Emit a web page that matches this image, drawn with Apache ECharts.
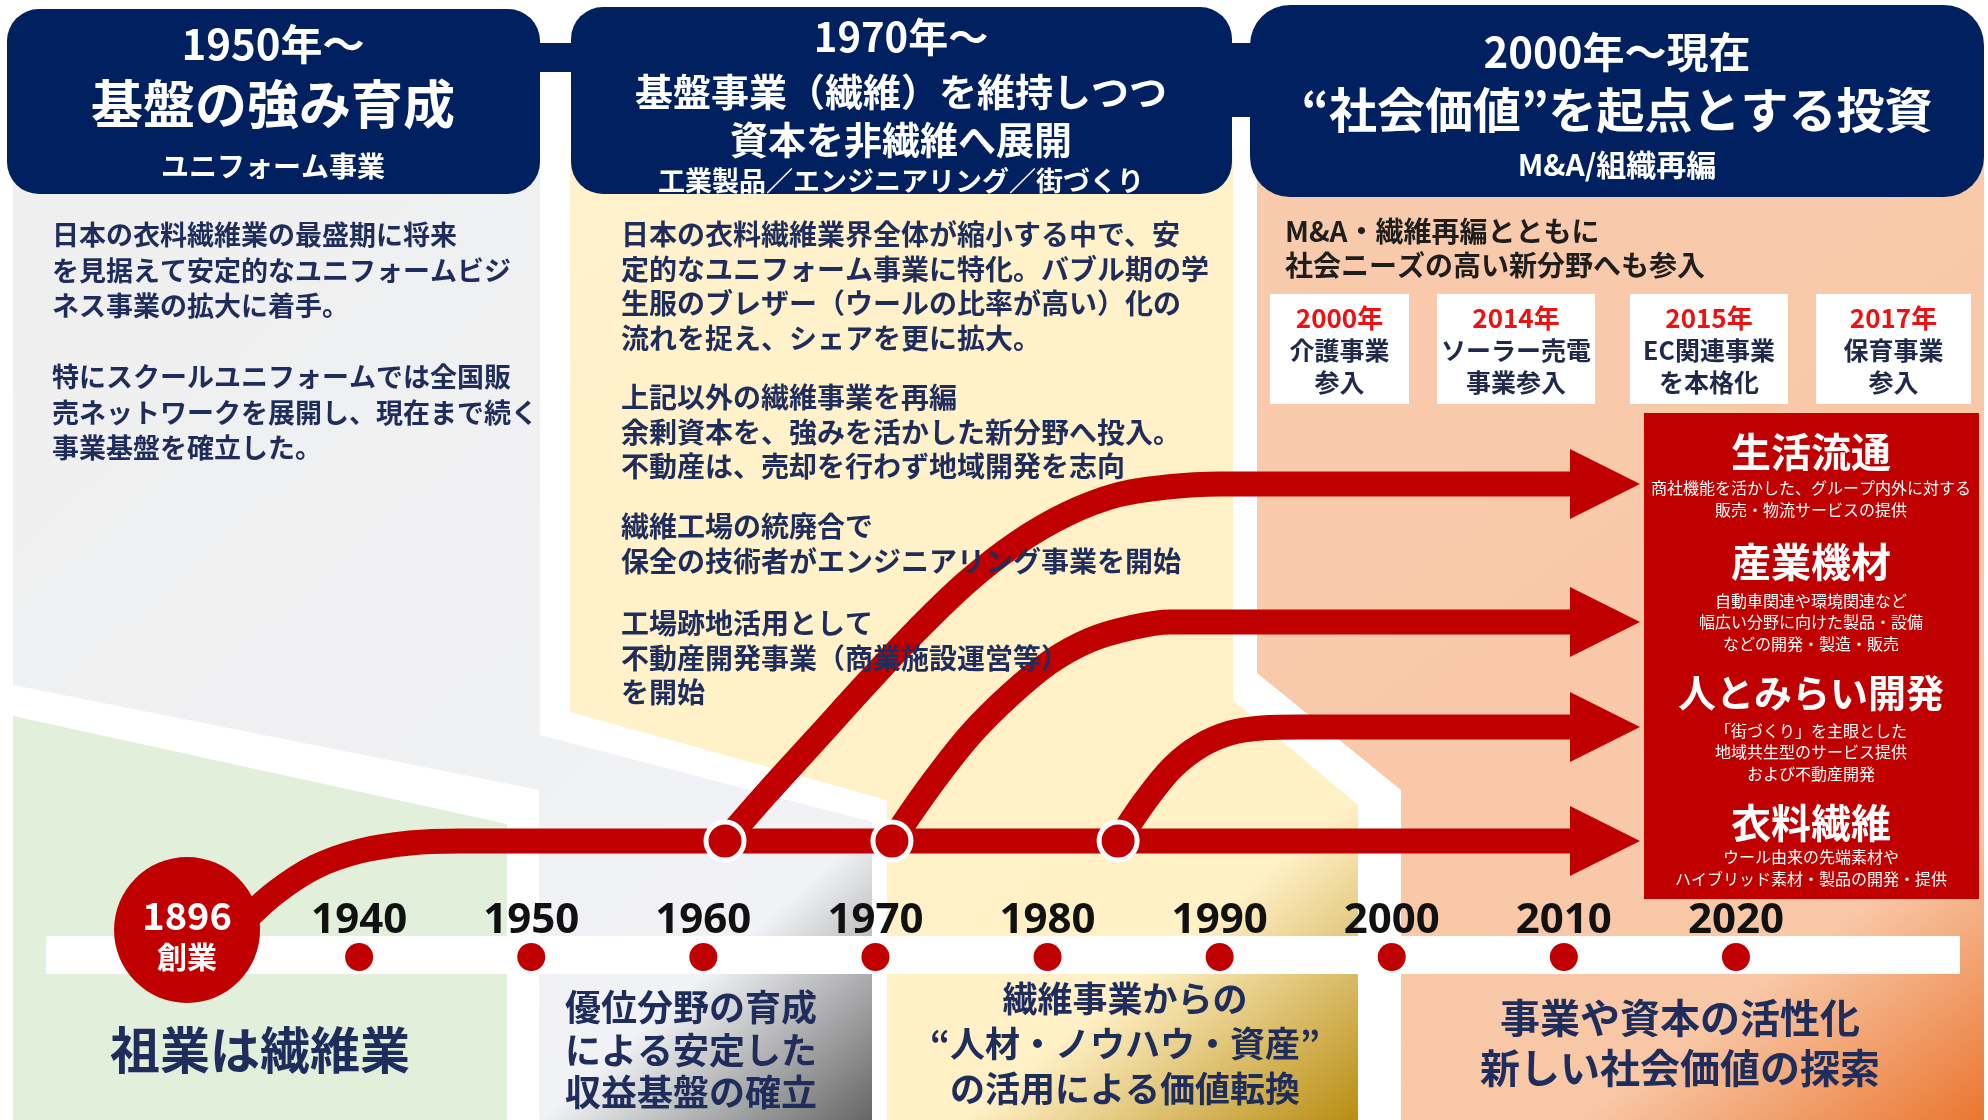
<!DOCTYPE html>
<html><head><meta charset="utf-8">
<script src="https://cdn.jsdelivr.net/npm/echarts@6/dist/echarts.min.js"></script>
<style>html,body{margin:0;padding:0;background:#fff}#c{width:1988px;height:1120px}</style>
</head><body><div id="c"></div>
<script>
// ---------- data ----------
const yearLabels = ['1896','1940','1950','1960','1970','1980','1990','2000','2010','2020'];
const foundingLabel = '創業';
const foundingLevel = 2.7;
const timelineLevel = 0;
// business lines: x in timeline slots (index of yearLabels), y in height units above the timeline
const trunkPath = [[0.308,3.2],[0.511,6.4],[0.744,9.0],[1.005,10.6],[1.296,11.4],[1.586,11.6],[3.0,11.6],[8.065,11.6]];
const branch1Path = [[3.126,11.6],[3.370,16.4],[3.661,21.9],[3.951,27.4],[4.242,32.7],[4.532,37.5],[4.823,41.4],[5.113,44.3],[5.404,46.2],[5.694,47.0],[6.002,47.3],[8.065,47.3]];
const branch2Path = [[4.096,11.6],[4.317,17.1],[4.550,22.2],[4.782,26.2],[5.015,29.5],[5.247,31.7],[5.479,32.9],[5.712,33.5],[8.065,33.5]];
const branch3Path = [[5.410,11.6],[5.567,15.6],[5.723,18.9],[5.886,21.1],[6.060,22.4],[6.246,22.9],[6.467,23.0],[8.065,23.0]];
const branchNodes = [[3.126,11.6],[4.096,11.6],[5.410,11.6]];
const arrowTips = [[8.239,47.3],[8.239,33.5],[8.239,23.0],[8.239,11.6]];

const eraYears = ['1950年〜','1970年〜','2000年〜現在'];
const eraThemes = [['基盤の強み育成'],['基盤事業（繊維）を維持しつつ','資本を非繊維へ展開'],['“社会価値”を起点とする投資']];
const eraFields = ['ユニフォーム事業','工業製品／エンジニアリング／街づくり','M&A/組織再編'];
const era1Notes = ['日本の衣料繊維業の最盛期に将来','を見据えて安定的なユニフォームビジ','ネス事業の拡大に着手。','','特にスクールユニフォームでは全国販','売ネットワークを展開し、現在まで続く','事業基盤を確立した。'];
const era2Notes = [
  ['日本の衣料繊維業界全体が縮小する中で、安','定的なユニフォーム事業に特化。バブル期の学','生服のブレザー（ウールの比率が高い）化の','流れを捉え、シェアを更に拡大。'],
  ['上記以外の繊維事業を再編','余剰資本を、強みを活かした新分野へ投入。','不動産は、売却を行わず地域開発を志向'],
  ['繊維工場の統廃合で','保全の技術者がエンジニアリング事業を開始'],
  ['工場跡地活用として','不動産開発事業（商業施設運営等）','を開始']
];
const era3Intro = ['M&A・繊維再編とともに','社会ニーズの高い新分野へも参入'];
const entryYears = ['2000年','2014年','2015年','2017年'];
const entryTexts = [['介護事業','参入'],['ソーラー売電','事業参入'],['EC関連事業','を本格化'],['保育事業','参入']];
const businessNames = ['生活流通','産業機材','人とみらい開発','衣料繊維'];
const businessNotes = [
  ['商社機能を活かした、グループ内外に対する','販売・物流サービスの提供'],
  ['自動車関連や環境関連など','幅広い分野に向けた製品・設備','などの開発・製造・販売'],
  ['「街づくり」を主眼とした','地域共生型のサービス提供','および不動産開発'],
  ['ウール由来の先端素材や','ハイブリッド素材・製品の開発・提供']
];
const phaseTexts = [['祖業は繊維業'],['優位分野の育成','による安定した','収益基盤の確立'],['繊維事業からの','“人材・ノウハウ・資産”','の活用による価値転換'],['事業や資本の活性化','新しい社会価値の探索']];

// ---------- drawing ----------
const FONT = "'Noto Sans CJK JP','Noto Sans',sans-serif";
const NAVY = '#002060', RED = '#c00000', TEXT_NAVY = '#1f2d5c';
const chart = echarts.init(document.getElementById('c'), null, {renderer:'canvas'});

function grad(stops){ return new echarts.graphic.LinearGradient(0,0,1,1, stops.map(s=>({offset:s[0],color:s[1]}))); }
function poly(points, fill, z){ return {type:'polygon', z:z||1, silent:true, shape:{points}, style:{fill}}; }
function rect(x,y,w,h,r,fill,z){ return {type:'rect', z:z||5, silent:true, shape:{x,y,width:w,height:h,r}, style:{fill}}; }
function txt(lines, x, y, size, color, o){
  o = o || {};
  const text = Array.isArray(lines) ? lines.join('\n') : lines;
  return {type:'text', z:50, silent:true, x, y, style:{
    text, fill:color, fontSize:size, fontWeight:o.weight||'bold', fontFamily:o.family||FONT,
    align:o.align||'center', verticalAlign:o.valign||'middle',
    textAlign:o.align||'center', textVerticalAlign:o.valign||'middle',
    lineHeight:o.lh||Math.round(size*1.25)
  }};
}

const g = [];
// background panels
g.push(poly([[13,150],[540,150],[540,735],[872,822],[872,1120],[539,1120],[539,790],[13,685]], grad([[0,'#efefef'],[0.83,'#f1f2f5'],[1,'#666666']])));
g.push(poly([[13,716],[507,824],[507,1120],[13,1120]], '#e2efda'));
g.push(poly([[570,150],[1233,150],[1233,700],[1358,805],[1358,1120],[887,1120],[887,800],[570,712]], grad([[0,'#fff2cc'],[0.8,'#fff0c6'],[1,'#b88d12']])));
g.push(poly([[1257,150],[1984,150],[1984,1120],[1401,1120],[1401,790],[1257,673]], grad([[0,'#f8cbad'],[0.8,'#f8c7a6'],[1,'#ea7630']])));
// timeline band
g.push(rect(46,936,1914,38,0,'#ffffff',3));
// headers
g.push(rect(7,9,533,185,32,NAVY));
g.push(rect(536,43,40,29,0,NAVY));
g.push(rect(571,7,661,187,32,NAVY));
g.push(rect(1226,43,30,74,0,NAVY));
g.push(rect(1250,5,734,192,40,NAVY));
g.push(txt(eraYears[0],273,44,42,'#fff'));
g.push(txt(eraThemes[0],273,104,52,'#fff'));
g.push(txt(eraFields[0],273,166,28,'#fff'));
g.push(txt(eraYears[1],901,37,40,'#fff'));
g.push(txt(eraThemes[1],901,116,38,'#fff',{lh:48}));
g.push(txt(eraFields[1],901,181,27,'#fff'));
g.push(txt(eraYears[2],1617,52,42,'#fff'));
g.push(txt(eraThemes[2],1617,110,48,'#fff'));
g.push(txt(eraFields[2],1617,165,30,'#fff'));
// era notes
g.push(txt(era1Notes,52,217,27,TEXT_NAVY,{align:'left',valign:'top',lh:35.5}));
const paraTops = [235,398,527,624];
era2Notes.forEach((p,i)=>g.push(txt(p,621,paraTops[i]-17.5,28,TEXT_NAVY,{align:'left',valign:'top',lh:34.5})));
g.push(txt(era3Intro,1285,231-17,28,'#1e1e1e',{align:'left',valign:'top',lh:34}));
// entry boxes
const boxes = [[1270,139],[1437,158],[1630,158],[1816,155]];
boxes.forEach((b,i)=>{
  g.push(rect(b[0],294,b[1],110,0,'#ffffff'));
  const cx = b[0]+b[1]/2;
  g.push(txt(entryYears[i],cx,318,26,'#ee1111'));
  g.push(txt(entryTexts[i],cx,366,25,'#1f2a4a',{lh:32}));
});
// business box
g.push(rect(1644,413,335,486,0,RED));
const nameY = [452,562,693,823];
const noteY = [499,622,752,868];
businessNames.forEach((n,i)=>{
  g.push(txt(n,1811,nameY[i],n.length>4?38:40,'#fff'));
  g.push(txt(businessNotes[i],1811,noteY[i],16,'#fff',{weight:'normal',lh:21.5}));
});
// bottom phases
g.push(txt(phaseTexts[0],260,1050,50,TEXT_NAVY));
g.push(txt(phaseTexts[1],691,1050,36,TEXT_NAVY,{lh:42.5}));
g.push(txt(phaseTexts[2],1125,1044,35,TEXT_NAVY,{lh:45}));
g.push(txt(phaseTexts[3],1680,1043,40,TEXT_NAVY,{lh:50}));

const lineStyle = {width:25,color:RED,cap:'butt',join:'round',opacity:1};
function branch(name,data){ return {type:'line',name,data,smooth:0.35,symbol:'none',clip:false,silent:true,z:10,lineStyle,animation:false}; }

const timelineData = yearLabels.map((y,i)=> i===0 ? {
  name:y, value:[i,foundingLevel], symbolSize:146,
  label:{show:true,position:'inside',offset:[0,6],formatter:'{a|'+y+'}\n{b|'+foundingLabel+'}',
    rich:{a:{fontSize:38,fontWeight:'bold',color:'#fff',fontFamily:FONT,lineHeight:42},
          b:{fontSize:30,fontWeight:'bold',color:'#fff',fontFamily:FONT,lineHeight:40}}}
} : {name:y, value:[i,timelineLevel]});

chart.setOption({
  animation:false,
  backgroundColor:'#ffffff',
  grid:{left:101,top:397,width:1721,height:560},
  xAxis:{type:'value',min:-0.5,max:9.5,show:false},
  yAxis:{type:'value',min:0,max:56,show:false},
  graphic:{elements:g},
  series:[
    branch(businessNames[3],trunkPath),
    branch(businessNames[0],branch1Path),
    branch(businessNames[1],branch2Path),
    branch(businessNames[2],branch3Path),
    {type:'scatter',data:arrowTips,symbol:'triangle',symbolRotate:-90,symbolSize:[70,70],clip:false,silent:true,z:10,itemStyle:{color:RED,opacity:1}},
    {type:'scatter',data:branchNodes,symbolSize:38,clip:false,silent:true,z:12,itemStyle:{color:RED,opacity:1,borderColor:'#fff',borderWidth:5}},
    {type:'scatter',data:timelineData,symbolSize:28,clip:false,silent:true,z:13,itemStyle:{color:RED,opacity:1},
      label:{show:true,position:'top',distance:1,formatter:'{b}',fontSize:42,fontWeight:'bold',color:'#111',fontFamily:"'Noto Sans',sans-serif"}}
  ]
});
</script></body></html>
